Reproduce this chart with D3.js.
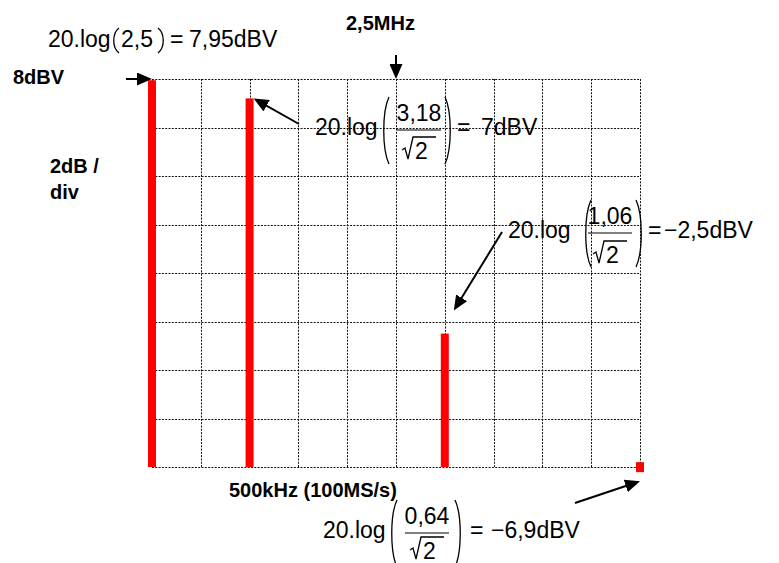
<!DOCTYPE html>
<html lang="fr">
  <head>
    <meta charset="UTF-8" />
    <title>Spectre</title>
    <script src="https://d3js.org/d3.v7.min.js"></script>
    <style>
      body {
        margin: 0;
        background: #fff;
      }
      svg {
        display: block;
        font-family: 'Liberation Sans', Arial, sans-serif;
      }
    </style>
  </head>
  <body>
    <svg id="chart"></svg>

    <script>
      let width = 779
      let height = 563

      // raies du spectre : position en divisions (500 kHz / div) et niveau en dBV
      let divisions = [0, 2, 6, 10]
      let levels = [7.95, 7.2, -2.5, -7.8]

      // graduations de la grille
      let xTicks = [0, 1, 2, 3, 4, 5, 6, 7, 8, 9, 10]
      let yTicks = [-8, -6, -4, -2, 0, 2, 4, 6, 8]

      // textes
      let numerators = ['3,18', '1,06', '0,64']
      let results = ['7dBV', '\u22122,5dBV', '\u22126,9dBV']

      let x = d3.scaleLinear().domain([0, 10]).range([152, 640])
      let y = d3.scaleLinear().domain([-8, 8]).range([467, 79])

      let svg = d3.select('#chart').attr('width', width).attr('height', height)

      svg.append('defs')
        .append('marker')
        .attr('id', 'head')
        .attr('markerUnits', 'userSpaceOnUse')
        .attr('markerWidth', 15)
        .attr('markerHeight', 13)
        .attr('refX', 7)
        .attr('refY', 6.5)
        .attr('orient', 'auto')
        .append('path')
        .attr('d', 'M0,0 L15,6.5 L0,13 Z')
        .attr('fill', '#000')

      // grille pointillée
      let grid = svg.append('g')
        .attr('stroke', '#111')
        .attr('stroke-width', 1)
        .attr('stroke-dasharray', '2,1.3')

      grid.selectAll('line.v')
        .data(xTicks)
        .enter()
        .append('line')
        .attr('class', 'v')
        .attr('x1', d => Math.round(x(d)) + 0.5)
        .attr('x2', d => Math.round(x(d)) + 0.5)
        .attr('y1', y(8))
        .attr('y2', y(-8))

      grid.selectAll('line.h')
        .data(yTicks)
        .enter()
        .append('line')
        .attr('class', 'h')
        .attr('y1', d => Math.round(y(d)) + 0.5)
        .attr('y2', d => Math.round(y(d)) + 0.5)
        .attr('x1', x(0))
        .attr('x2', x(10))

      // raies (hauteur mini 10 px pour rester visibles)
      svg.append('g')
        .selectAll('rect')
        .data(divisions)
        .enter()
        .append('rect')
        .attr('x', d => x(d) - 4)
        .attr('width', 8)
        .attr('y', (d, i) => y(levels[i]))
        .attr('height', (d, i) => Math.max(y(-8) - y(levels[i]), 10))
        .attr('fill', '#ff0000')

      // flèches
      let arrows = [
        { from: [126, y(8)], to: [x(0), y(8)] },
        { from: [x(5), 55], to: [x(5), y(8)] },
        { from: [299, 124], to: [x(divisions[1]) + 4, y(levels[1])] },
        { from: [502, 232], to: [x(divisions[2]) + 9, y(levels[2]) - 23] },
        { from: [575, 503], to: [x(divisions[3]), y(levels[3]) + 19] },
      ]

      svg.append('g')
        .selectAll('line')
        .data(arrows)
        .enter()
        .append('line')
        .attr('x1', d => d.from[0])
        .attr('y1', d => d.from[1])
        .attr('x2', d => {
          let dx = d.to[0] - d.from[0], dy = d.to[1] - d.from[1]
          return d.to[0] - 8 * dx / Math.hypot(dx, dy)
        })
        .attr('y2', d => {
          let dx = d.to[0] - d.from[0], dy = d.to[1] - d.from[1]
          return d.to[1] - 8 * dy / Math.hypot(dx, dy)
        })
        .attr('stroke', '#000')
        .attr('stroke-width', 2)
        .attr('marker-end', 'url(#head)')

      // libellés en gras
      let bold = svg.append('g')
        .attr('font-weight', 'bold')
        .attr('font-size', 20)
        .attr('fill', '#000')

      bold.append('text').attr('x', 13).attr('y', 84).text('8dBV')
      bold.append('text').attr('x', 50).attr('y', 173).text('2dB /')
      bold.append('text').attr('x', 50).attr('y', 199).text('div')
      bold.append('text').attr('x', 346).attr('y', 30).text('2,5MHz')
      bold.append('text').attr('x', 229).attr('y', 497).text('500kHz (100MS/s)')

      // formules
      let math = svg.append('g').attr('font-size', 23).attr('fill', '#000')

      function paren(g, px, top, bottom, right) {
        let w = 7
        let h = bottom - top
        let a = right ? px : px + w
        let b = right ? px + w : px
        g.append('path')
          .attr('d', `M${a},${top} C${b},${top + h * 0.22} ${b},${bottom - h * 0.22} ${a},${bottom}`)
          .attr('fill', 'none')
          .attr('stroke', '#000')
          .attr('stroke-width', 1.3)
      }

      // 20.log(2,5) = 7,95dBV
      math.append('text').attr('x', 48).attr('y', 47).text('20.log')
      paren(math, 112, 28, 53, false)
      math.append('text').attr('x', 121).attr('y', 47).text('2,5')
      paren(math, 158, 28, 53, true)
      math.append('text').attr('x', 170).attr('y', 47).text('=')
      math.append('text').attr('x', 189).attr('y', 47).text('7,95dBV')

      let fractions = [
        { x: 315, b: 135, lp: 382, cx: 419, rp: 445, eq: 457, val: 481, db: 24 },
        { x: 508, b: 238, lp: 584, cx: 610, rp: 636, eq: 648, val: 664, db: 25 },
        { x: 323, b: 538, lp: 390, cx: 427, rp: 455, eq: 470, val: 491, db: 21 },
      ]

      fractions.forEach((f, i) => {
        math.append('text').attr('x', f.x).attr('y', f.b).text('20.log')
        paren(math, f.lp, f.b - 38, f.b + 29, false)
        paren(math, f.rp, f.b - 38, f.b + 29, true)
        math.append('text')
          .attr('x', f.cx)
          .attr('y', f.b - 14)
          .attr('text-anchor', 'middle')
          .text(numerators[i])
        math.append('line')
          .attr('x1', f.cx - 22)
          .attr('x2', f.cx + 22)
          .attr('y1', f.b - 5)
          .attr('y2', f.b - 5)
          .attr('stroke', '#000')
          .attr('stroke-width', 1.2)
        // racine de 2
        let rx = f.cx - 17
        let db = f.b + f.db
        math.append('path')
          .attr('d', `M${rx},${db - 9} L${rx + 3},${db - 11} L${rx + 6},${db} L${rx + 11},${db - 22} L${rx + 34},${db - 22}`)
          .attr('fill', 'none')
          .attr('stroke', '#000')
          .attr('stroke-width', 1.3)
        math.append('text').attr('x', rx + 13).attr('y', db).text('2')
        math.append('text').attr('x', f.eq).attr('y', f.b).text('=')
        math.append('text').attr('x', f.val).attr('y', f.b).text(results[i])
      })
    </script>
  </body>
</html>
